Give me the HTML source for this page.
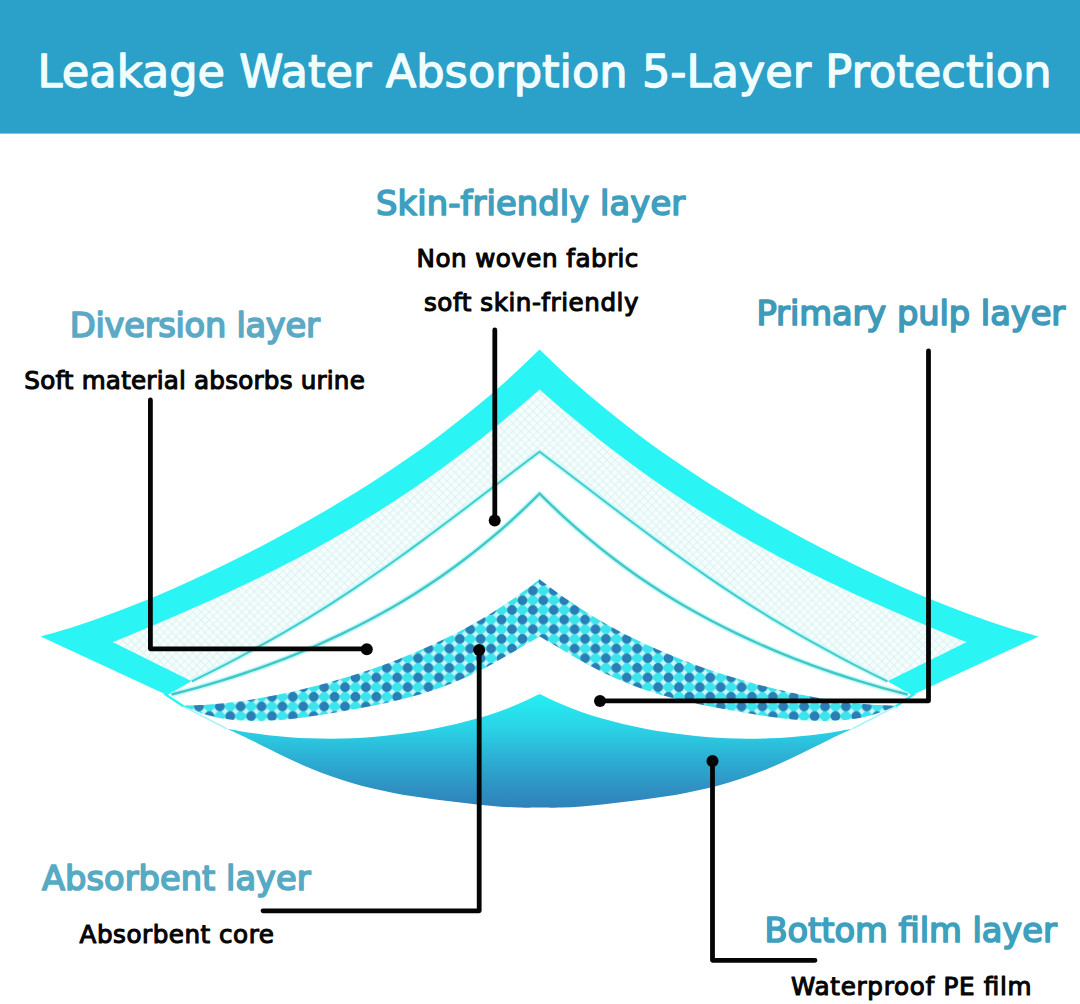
<!DOCTYPE html>
<html lang="en">
<head>
<meta charset="utf-8">
<title>Leakage Water Absorption 5-Layer Protection</title>
<style>
html,body{margin:0;padding:0;background:#fff;}
body{width:1080px;height:1004px;overflow:hidden;font-family:"Liberation Sans",Arial,Helvetica,sans-serif;}
svg{display:block;}
text{font-family:"DejaVu Sans","Liberation Sans",Arial,Helvetica,sans-serif;font-weight:400;stroke-linejoin:round;}
.t{stroke-width:1.3px;}
.h{stroke-width:1.7px;}
.s{stroke-width:1.1px;}
</style>
</head>
<body>
<svg width="1080" height="1004" viewBox="0 0 1080 1004">
<defs>
<pattern id="grid" width="5.8" height="5.8" patternUnits="userSpaceOnUse" patternTransform="rotate(45)">
<rect width="5.8" height="5.8" fill="#f5fefe"/>
<path d="M0 0H5.8M0 0V5.8" stroke="#e0f2f1" stroke-width="2.2" fill="none"/>
</pattern>
<pattern id="dots" x="11.1" y="11.7" width="20.87" height="19.3" patternUnits="userSpaceOnUse">
<rect width="20.87" height="19.3" fill="#3de4ec"/>
<g fill="#c4f7f9">
<rect x="-2.4" y="-2.4" width="4.8" height="4.8" transform="translate(5.22 4.83) rotate(45)"/>
<rect x="-2.4" y="-2.4" width="4.8" height="4.8" transform="translate(15.65 4.83) rotate(45)"/>
<rect x="-2.4" y="-2.4" width="4.8" height="4.8" transform="translate(5.22 14.48) rotate(45)"/>
<rect x="-2.4" y="-2.4" width="4.8" height="4.8" transform="translate(15.65 14.48) rotate(45)"/>
</g>
<g fill="#2b7db6">
<circle cx="0" cy="0" r="4.8"/><circle cx="20.87" cy="0" r="4.8"/>
<circle cx="0" cy="19.3" r="4.8"/><circle cx="20.87" cy="19.3" r="4.8"/>
<circle cx="10.44" cy="9.65" r="4.8"/>
</g>
</pattern>
<linearGradient id="film" x1="0" y1="694" x2="0" y2="808" gradientUnits="userSpaceOnUse">
<stop offset="0" stop-color="#24f0f2"/>
<stop offset="0.3" stop-color="#2ad3e6"/>
<stop offset="0.56" stop-color="#2cb0d4"/>
<stop offset="0.8" stop-color="#2e94c4"/>
<stop offset="1" stop-color="#2f81ba"/>
</linearGradient>
</defs>
<rect width="1080" height="1004" fill="#fff"/>
<rect width="1080" height="133.6" fill="#2ba0c8"/>
<path d="M40.6 636.5C46.1 634.9 62.8 630.3 73.9 626.7C85 623.2 96 619.4 107.1 615.3C118.2 611.3 129.3 606.9 140.4 602.5C151.5 598 162.6 593.3 173.7 588.4C184.8 583.5 195.8 578.4 206.9 573.2C218 568 229.1 562.6 240.2 557C251.3 551.4 262.4 545.7 273.5 539.8C284.6 533.9 295.6 527.8 306.7 521.5C317.8 515.3 328.9 508.8 340 502.1C351.1 495.5 362.2 488.6 373.3 481.5C384.4 474.3 395.4 467 406.5 459.3C417.6 451.6 428.7 443.7 439.8 435.4C450.9 427 462 418.4 473.1 409.3C484.2 400.3 495.2 390.8 506.3 380.9C517.4 370.9 534.1 354.7 539.6 349.5C545.1 354.7 561.8 370.9 572.9 380.9C584 390.8 595 400.3 606.1 409.3C617.2 418.4 628.3 427 639.4 435.4C650.5 443.7 661.6 451.6 672.7 459.3C683.8 467 694.8 474.3 705.9 481.5C717 488.6 728.1 495.5 739.2 502.1C750.3 508.8 761.4 515.3 772.5 521.5C783.6 527.8 794.6 533.9 805.7 539.8C816.8 545.7 827.9 551.4 839 557C850.1 562.6 861.2 568 872.3 573.2C883.4 578.4 894.4 583.5 905.5 588.4C916.6 593.3 927.7 598 938.8 602.5C949.9 606.9 961 611.3 972.1 615.3C983.2 619.4 994.2 623.2 1005.3 626.7C1016.4 630.3 1033.1 634.9 1038.6 636.5L911.7 695.2L887.5 681.3C883.6 679.4 872 673.7 864.3 669.8C856.6 665.9 848.8 661.9 841.1 657.8C833.4 653.7 825.7 649.5 817.9 645.2C810.2 641 802.5 636.6 794.7 632.1C787 627.6 779.3 623 771.5 618.3C763.8 613.5 756.1 608.7 748.3 603.8C740.6 598.8 732.9 593.8 725.1 588.6C717.4 583.5 709.7 578.2 702 572.8C694.2 567.5 686.5 562 678.8 556.5C671 550.9 663.3 545.3 655.6 539.6C647.8 533.9 640.1 528.1 632.4 522.3C624.6 516.5 616.9 510.6 609.2 504.7C601.4 498.8 593.7 492.9 586 487C578.3 481.1 570.5 475.1 562.8 469.3C555.1 463.4 543.5 454.6 539.6 451.7C535.7 454.6 524.1 463.4 516.4 469.3C508.7 475.1 500.9 481.1 493.2 487C485.5 492.9 477.8 498.8 470 504.7C462.3 510.6 454.6 516.5 446.8 522.3C439.1 528.1 431.4 533.9 423.6 539.6C415.9 545.3 408.2 550.9 400.4 556.5C392.7 562 385 567.5 377.2 572.8C369.5 578.2 361.8 583.5 354.1 588.6C346.3 593.8 338.6 598.8 330.9 603.8C323.1 608.7 315.4 613.5 307.7 618.3C299.9 623 292.2 627.6 284.5 632.1C276.7 636.6 269 641 261.3 645.2C253.5 649.5 245.8 653.7 238.1 657.8C230.4 661.9 222.6 665.9 214.9 669.8C207.2 673.7 195.6 679.4 191.7 681.3L167.5 695.2Z" fill="#2bf4f4"/>
<path d="M112.5 642.1C117.2 640.2 131.5 634.4 141 630.4C150.5 626.5 160 622.5 169.4 618.5C178.9 614.4 188.4 610.3 197.9 606.1C207.4 601.9 216.9 597.6 226.4 593.2C235.9 588.8 245.4 584.4 254.9 579.7C264.4 575.1 273.8 570.4 283.3 565.5C292.8 560.6 302.3 555.6 311.8 550.4C321.3 545.2 330.8 539.9 340.3 534.4C349.8 528.9 359.3 523.2 368.8 517.3C378.3 511.5 387.7 505.4 397.2 499.2C406.7 492.9 416.2 486.5 425.7 479.9C435.2 473.2 444.7 466.4 454.2 459.3C463.7 452.2 473.2 444.9 482.7 437.4C492.1 429.9 501.6 422.1 511.1 414.1C520.6 406.2 534.9 393.6 539.6 389.5C544.3 393.6 558.6 406.2 568.1 414.1C577.6 422.1 587.1 429.9 596.5 437.4C606 444.9 615.5 452.2 625 459.3C634.5 466.4 644 473.2 653.5 479.9C663 486.5 672.5 492.9 682 499.2C691.5 505.4 700.9 511.5 710.4 517.3C719.9 523.2 729.4 528.9 738.9 534.4C748.4 539.9 757.9 545.2 767.4 550.4C776.9 555.6 786.4 560.6 795.9 565.5C805.4 570.4 814.8 575.1 824.3 579.7C833.8 584.4 843.3 588.8 852.8 593.2C862.3 597.6 871.8 601.9 881.3 606.1C890.8 610.3 900.3 614.4 909.8 618.5C919.2 622.5 928.7 626.5 938.2 630.4C947.7 634.4 962 640.2 966.7 642.1L887.5 681.3C883.6 679.4 872 673.7 864.3 669.8C856.6 665.9 848.8 661.9 841.1 657.8C833.4 653.7 825.7 649.5 817.9 645.2C810.2 641 802.5 636.6 794.7 632.1C787 627.6 779.3 623 771.5 618.3C763.8 613.5 756.1 608.7 748.3 603.8C740.6 598.8 732.9 593.8 725.1 588.6C717.4 583.5 709.7 578.2 702 572.8C694.2 567.5 686.5 562 678.8 556.5C671 550.9 663.3 545.3 655.6 539.6C647.8 533.9 640.1 528.1 632.4 522.3C624.6 516.5 616.9 510.6 609.2 504.7C601.4 498.8 593.7 492.9 586 487C578.3 481.1 570.5 475.1 562.8 469.3C555.1 463.4 543.5 454.6 539.6 451.7C535.7 454.6 524.1 463.4 516.4 469.3C508.7 475.1 500.9 481.1 493.2 487C485.5 492.9 477.8 498.8 470 504.7C462.3 510.6 454.6 516.5 446.8 522.3C439.1 528.1 431.4 533.9 423.6 539.6C415.9 545.3 408.2 550.9 400.4 556.5C392.7 562 385 567.5 377.2 572.8C369.5 578.2 361.8 583.5 354.1 588.6C346.3 593.8 338.6 598.8 330.9 603.8C323.1 608.7 315.4 613.5 307.7 618.3C299.9 623 292.2 627.6 284.5 632.1C276.7 636.6 269 641 261.3 645.2C253.5 649.5 245.8 653.7 238.1 657.8C230.4 661.9 222.6 665.9 214.9 669.8C207.2 673.7 195.6 679.4 191.7 681.3Z" fill="url(#grid)"/>
<path d="M191.7 681.3C195.6 679.4 207.2 673.7 214.9 669.8C222.6 665.9 230.4 661.9 238.1 657.8C245.8 653.7 253.5 649.5 261.3 645.2C269 641 276.7 636.6 284.5 632.1C292.2 627.6 299.9 623 307.7 618.3C315.4 613.5 323.1 608.7 330.9 603.8C338.6 598.8 346.3 593.8 354.1 588.6C361.8 583.5 369.5 578.2 377.2 572.8C385 567.5 392.7 562 400.4 556.5C408.2 550.9 415.9 545.3 423.6 539.6C431.4 533.9 439.1 528.1 446.8 522.3C454.6 516.5 462.3 510.6 470 504.7C477.8 498.8 485.5 492.9 493.2 487C500.9 481.1 508.7 475.1 516.4 469.3C524.1 463.4 535.7 454.6 539.6 451.7C543.5 454.6 555.1 463.4 562.8 469.3C570.5 475.1 578.3 481.1 586 487C593.7 492.9 601.4 498.8 609.2 504.7C616.9 510.6 624.6 516.5 632.4 522.3C640.1 528.1 647.8 533.9 655.6 539.6C663.3 545.3 671 550.9 678.8 556.5C686.5 562 694.2 567.5 702 572.8C709.7 578.2 717.4 583.5 725.1 588.6C732.9 593.8 740.6 598.8 748.3 603.8C756.1 608.7 763.8 613.5 771.5 618.3C779.3 623 787 627.6 794.7 632.1C802.5 636.6 810.2 641 817.9 645.2C825.7 649.5 833.4 653.7 841.1 657.8C848.8 661.9 856.6 665.9 864.3 669.8C872 673.7 883.6 679.4 887.5 681.3L911.7 695.2L907.7 694.5C903.6 693.4 891.3 690.3 883.2 688.1C875 685.8 866.8 683.4 858.6 680.9C850.4 678.4 842.3 675.8 834.1 673C825.9 670.3 817.7 667.4 809.5 664.4C801.4 661.3 793.2 658.2 785 654.9C776.8 651.6 768.6 648.1 760.5 644.5C752.3 640.9 744.1 637.1 735.9 633.2C727.7 629.2 719.6 625.1 711.4 620.8C703.2 616.5 695 612 686.8 607.3C678.7 602.5 670.5 597.6 662.3 592.4C654.1 587.2 645.9 581.8 637.8 576.2C629.6 570.5 621.4 564.6 613.2 558.3C605 552.1 596.9 545.6 588.7 538.7C580.5 531.9 572.3 524.7 564.1 517.2C556 509.7 543.7 497.5 539.6 493.6C535.5 497.5 523.2 509.7 515.1 517.2C506.9 524.7 498.7 531.9 490.5 538.7C482.3 545.6 474.2 552.1 466 558.3C457.8 564.6 449.6 570.5 441.4 576.2C433.3 581.8 425.1 587.2 416.9 592.4C408.7 597.6 400.5 602.5 392.4 607.3C384.2 612 376 616.5 367.8 620.8C359.6 625.1 351.5 629.2 343.3 633.2C335.1 637.1 326.9 640.9 318.7 644.5C310.6 648.1 302.4 651.6 294.2 654.9C286 658.2 277.8 661.3 269.7 664.4C261.5 667.4 253.3 670.3 245.1 673C236.9 675.8 228.8 678.4 220.6 680.9C212.4 683.4 204.2 685.8 196 688.1C187.9 690.3 175.6 693.4 171.5 694.5L167.5 695.2Z" fill="#fff"/>
<path d="M191.7 681.3C195.6 679.4 207.2 673.7 214.9 669.8C222.6 665.9 230.4 661.9 238.1 657.8C245.8 653.7 253.5 649.5 261.3 645.2C269 641 276.7 636.6 284.5 632.1C292.2 627.6 299.9 623 307.7 618.3C315.4 613.5 323.1 608.7 330.9 603.8C338.6 598.8 346.3 593.8 354.1 588.6C361.8 583.5 369.5 578.2 377.2 572.8C385 567.5 392.7 562 400.4 556.5C408.2 550.9 415.9 545.3 423.6 539.6C431.4 533.9 439.1 528.1 446.8 522.3C454.6 516.5 462.3 510.6 470 504.7C477.8 498.8 485.5 492.9 493.2 487C500.9 481.1 508.7 475.1 516.4 469.3C524.1 463.4 535.7 454.6 539.6 451.7C543.5 454.6 555.1 463.4 562.8 469.3C570.5 475.1 578.3 481.1 586 487C593.7 492.9 601.4 498.8 609.2 504.7C616.9 510.6 624.6 516.5 632.4 522.3C640.1 528.1 647.8 533.9 655.6 539.6C663.3 545.3 671 550.9 678.8 556.5C686.5 562 694.2 567.5 702 572.8C709.7 578.2 717.4 583.5 725.1 588.6C732.9 593.8 740.6 598.8 748.3 603.8C756.1 608.7 763.8 613.5 771.5 618.3C779.3 623 787 627.6 794.7 632.1C802.5 636.6 810.2 641 817.9 645.2C825.7 649.5 833.4 653.7 841.1 657.8C848.8 661.9 856.6 665.9 864.3 669.8C872 673.7 883.6 679.4 887.5 681.3" fill="none" stroke="#c4f9fa" stroke-width="5" stroke-linejoin="round"/>
<path d="M171.5 694.5C175.6 693.4 187.9 690.3 196 688.1C204.2 685.8 212.4 683.4 220.6 680.9C228.8 678.4 236.9 675.8 245.1 673C253.3 670.3 261.5 667.4 269.7 664.4C277.8 661.3 286 658.2 294.2 654.9C302.4 651.6 310.6 648.1 318.7 644.5C326.9 640.9 335.1 637.1 343.3 633.2C351.5 629.2 359.6 625.1 367.8 620.8C376 616.5 384.2 612 392.4 607.3C400.5 602.5 408.7 597.6 416.9 592.4C425.1 587.2 433.3 581.8 441.4 576.2C449.6 570.5 457.8 564.6 466 558.3C474.2 552.1 482.3 545.6 490.5 538.7C498.7 531.9 506.9 524.7 515.1 517.2C523.2 509.7 535.5 497.5 539.6 493.6C543.7 497.5 556 509.7 564.1 517.2C572.3 524.7 580.5 531.9 588.7 538.7C596.9 545.6 605 552.1 613.2 558.3C621.4 564.6 629.6 570.5 637.8 576.2C645.9 581.8 654.1 587.2 662.3 592.4C670.5 597.6 678.7 602.5 686.8 607.3C695 612 703.2 616.5 711.4 620.8C719.6 625.1 727.7 629.2 735.9 633.2C744.1 637.1 752.3 640.9 760.5 644.5C768.6 648.1 776.8 651.6 785 654.9C793.2 658.2 801.4 661.3 809.5 664.4C817.7 667.4 825.9 670.3 834.1 673C842.3 675.8 850.4 678.4 858.6 680.9C866.8 683.4 875 685.8 883.2 688.1C891.3 690.3 903.6 693.4 907.7 694.5" fill="none" stroke="#c4f9fa" stroke-width="5.4" stroke-linejoin="round"/>
<path d="M191.7 681.3C195.6 679.4 207.2 673.7 214.9 669.8C222.6 665.9 230.4 661.9 238.1 657.8C245.8 653.7 253.5 649.5 261.3 645.2C269 641 276.7 636.6 284.5 632.1C292.2 627.6 299.9 623 307.7 618.3C315.4 613.5 323.1 608.7 330.9 603.8C338.6 598.8 346.3 593.8 354.1 588.6C361.8 583.5 369.5 578.2 377.2 572.8C385 567.5 392.7 562 400.4 556.5C408.2 550.9 415.9 545.3 423.6 539.6C431.4 533.9 439.1 528.1 446.8 522.3C454.6 516.5 462.3 510.6 470 504.7C477.8 498.8 485.5 492.9 493.2 487C500.9 481.1 508.7 475.1 516.4 469.3C524.1 463.4 535.7 454.6 539.6 451.7C543.5 454.6 555.1 463.4 562.8 469.3C570.5 475.1 578.3 481.1 586 487C593.7 492.9 601.4 498.8 609.2 504.7C616.9 510.6 624.6 516.5 632.4 522.3C640.1 528.1 647.8 533.9 655.6 539.6C663.3 545.3 671 550.9 678.8 556.5C686.5 562 694.2 567.5 702 572.8C709.7 578.2 717.4 583.5 725.1 588.6C732.9 593.8 740.6 598.8 748.3 603.8C756.1 608.7 763.8 613.5 771.5 618.3C779.3 623 787 627.6 794.7 632.1C802.5 636.6 810.2 641 817.9 645.2C825.7 649.5 833.4 653.7 841.1 657.8C848.8 661.9 856.6 665.9 864.3 669.8C872 673.7 883.6 679.4 887.5 681.3" fill="none" stroke="#44cccb" stroke-width="2" stroke-linejoin="miter"/>
<path d="M171.5 694.5C175.6 693.4 187.9 690.3 196 688.1C204.2 685.8 212.4 683.4 220.6 680.9C228.8 678.4 236.9 675.8 245.1 673C253.3 670.3 261.5 667.4 269.7 664.4C277.8 661.3 286 658.2 294.2 654.9C302.4 651.6 310.6 648.1 318.7 644.5C326.9 640.9 335.1 637.1 343.3 633.2C351.5 629.2 359.6 625.1 367.8 620.8C376 616.5 384.2 612 392.4 607.3C400.5 602.5 408.7 597.6 416.9 592.4C425.1 587.2 433.3 581.8 441.4 576.2C449.6 570.5 457.8 564.6 466 558.3C474.2 552.1 482.3 545.6 490.5 538.7C498.7 531.9 506.9 524.7 515.1 517.2C523.2 509.7 535.5 497.5 539.6 493.6C543.7 497.5 556 509.7 564.1 517.2C572.3 524.7 580.5 531.9 588.7 538.7C596.9 545.6 605 552.1 613.2 558.3C621.4 564.6 629.6 570.5 637.8 576.2C645.9 581.8 654.1 587.2 662.3 592.4C670.5 597.6 678.7 602.5 686.8 607.3C695 612 703.2 616.5 711.4 620.8C719.6 625.1 727.7 629.2 735.9 633.2C744.1 637.1 752.3 640.9 760.5 644.5C768.6 648.1 776.8 651.6 785 654.9C793.2 658.2 801.4 661.3 809.5 664.4C817.7 667.4 825.9 670.3 834.1 673C842.3 675.8 850.4 678.4 858.6 680.9C866.8 683.4 875 685.8 883.2 688.1C891.3 690.3 903.6 693.4 907.7 694.5" fill="none" stroke="#42c6c6" stroke-width="2.4" stroke-linejoin="miter"/>
<path d="M182.3 705.8L226.8 728.8M896.9 705.8L852.4 728.8" stroke="#a8f5f6" stroke-width="1.6" fill="none"/>
<path d="M164.5 693.8L183.3 706.3M914.7 693.8L895.9 706.3" stroke="#2bf4f4" stroke-width="2.4" fill="none"/>
<path d="M182.3 705.8C186.3 705.6 198.2 705.3 206.1 704.8C214.1 704.3 222 703.5 229.9 702.5C237.9 701.6 245.8 700.5 253.8 699.2C261.7 697.9 269.6 696.4 277.6 694.8C285.5 693.2 293.5 691.5 301.4 689.6C309.3 687.7 317.3 685.6 325.2 683.5C333.2 681.3 341.1 679 349 676.5C357 674 364.9 671.4 372.9 668.7C380.8 665.9 388.7 663 396.7 659.9C404.6 656.8 412.6 653.5 420.5 650.1C428.4 646.6 436.4 643 444.3 639.1C452.3 635.2 460.2 631.1 468.1 626.7C476.1 622.3 484 617.7 492 612.8C499.9 607.8 507.8 602.6 515.8 597C523.7 591.4 535.6 582.2 539.6 579.2C543.6 582.2 555.5 591.4 563.4 597C571.4 602.6 579.3 607.8 587.2 612.8C595.2 617.7 603.1 622.3 611.1 626.7C619 631.1 626.9 635.2 634.9 639.1C642.8 643 650.8 646.6 658.7 650.1C666.6 653.5 674.6 656.8 682.5 659.9C690.5 663 698.4 665.9 706.3 668.7C714.3 671.4 722.2 674 730.2 676.5C738.1 679 746 681.3 754 683.5C761.9 685.6 769.9 687.7 777.8 689.6C785.7 691.5 793.7 693.2 801.6 694.8C809.6 696.4 817.5 697.9 825.4 699.2C833.4 700.5 841.3 701.6 849.3 702.5C857.2 703.5 865.1 704.3 873.1 704.8C881 705.3 892.9 705.6 896.9 705.8C892.9 707.3 881 712.4 873.1 714.7C865.1 717 857.2 718.5 849.3 719.6C841.3 720.6 833.4 721 825.4 721.1C817.5 721.2 809.6 720.8 801.6 720.3C793.7 719.7 785.7 718.8 777.8 717.8C769.9 716.8 761.9 715.6 754 714.3C746 713.1 738.1 711.7 730.2 710.3C722.2 708.8 714.3 707.4 706.3 705.7C698.4 704.1 690.5 702.4 682.5 700.5C674.6 698.6 666.6 696.6 658.7 694.2C650.8 691.8 642.8 689.2 634.9 686.2C626.9 683.3 619 679.9 611.1 676.3C603.1 672.6 595.2 668.5 587.2 664.2C579.3 659.8 571.4 655 563.4 650.4C555.5 645.8 543.6 638.8 539.6 636.5C535.6 638.8 523.7 645.8 515.8 650.4C507.8 655 499.9 659.8 492 664.2C484 668.5 476.1 672.6 468.1 676.3C460.2 679.9 452.3 683.3 444.3 686.2C436.4 689.2 428.4 691.8 420.5 694.2C412.6 696.6 404.6 698.6 396.7 700.5C388.7 702.4 380.8 704.1 372.9 705.7C364.9 707.4 357 708.8 349 710.3C341.1 711.7 333.2 713.1 325.2 714.3C317.3 715.6 309.3 716.8 301.4 717.8C293.5 718.8 285.5 719.7 277.6 720.3C269.6 720.8 261.7 721.2 253.8 721.1C245.8 721 237.9 720.6 229.9 719.6C222 718.5 214.1 717 206.1 714.7C198.2 712.4 186.3 707.3 182.3 705.8Z" fill="url(#dots)"/>
<path d="M226.8 728.8C230.3 729.4 240.7 731.3 247.7 732.4C254.6 733.4 261.6 734.4 268.5 735.2C275.5 736 282.4 736.7 289.4 737.2C296.3 737.7 303.3 738.1 310.2 738.3C317.2 738.6 324.1 738.7 331.1 738.7C338 738.6 345 738.5 351.9 738.2C358.9 737.9 365.8 737.4 372.8 736.9C379.7 736.3 386.7 735.7 393.6 734.8C400.6 734 407.5 733.1 414.5 732C421.4 731 428.4 729.8 435.3 728.4C442.3 727.1 449.2 725.6 456.2 724C463.1 722.3 470.1 720.5 477 718.5C484 716.5 490.9 714.3 497.9 711.9C504.8 709.4 511.8 706.8 518.7 703.8C525.7 700.9 536.1 695.6 539.6 694C543.1 695.6 553.5 700.9 560.5 703.8C567.4 706.8 574.4 709.4 581.3 711.9C588.3 714.3 595.2 716.5 602.2 718.5C609.1 720.5 616.1 722.3 623 724C630 725.6 636.9 727.1 643.9 728.4C650.8 729.8 657.8 731 664.7 732C671.7 733.1 678.6 734 685.6 734.8C692.5 735.7 699.5 736.3 706.4 736.9C713.4 737.4 720.3 737.9 727.3 738.2C734.2 738.5 741.2 738.6 748.1 738.7C755.1 738.7 762 738.6 769 738.3C775.9 738.1 782.9 737.7 789.8 737.2C796.8 736.7 803.7 736 810.7 735.2C817.6 734.4 824.6 733.4 831.5 732.4C838.5 731.3 848.9 729.4 852.4 728.8C848.9 730.4 838.5 735.1 831.5 738.4C824.6 741.8 817.6 745.4 810.7 748.8C803.7 752.2 796.8 755.7 789.8 759C782.9 762.2 775.9 765.4 769 768.3C762 771.1 755.1 773.9 748.1 776.3C741.2 778.8 734.2 781 727.3 783C720.3 785.1 713.4 786.9 706.4 788.5C699.5 790.1 692.5 791.6 685.6 792.9C678.6 794.2 671.7 795.4 664.7 796.5C657.8 797.6 650.8 798.5 643.9 799.5C636.9 800.4 630 801.3 623 802.1C616.1 802.9 609.1 803.7 602.2 804.4C595.2 805.1 588.3 805.8 581.3 806.4C574.4 806.9 567.4 807.4 560.5 807.6C553.5 807.8 543.1 807.5 539.6 807.5C536.1 807.5 525.7 807.8 518.7 807.6C511.8 807.4 504.8 806.9 497.9 806.4C490.9 805.8 484 805.1 477 804.4C470.1 803.7 463.1 802.9 456.2 802.1C449.2 801.3 442.3 800.4 435.3 799.5C428.4 798.5 421.4 797.6 414.5 796.5C407.5 795.4 400.6 794.2 393.6 792.9C386.7 791.6 379.7 790.1 372.8 788.5C365.8 786.9 358.9 785.1 351.9 783C345 781 338 778.8 331.1 776.3C324.1 773.9 317.2 771.1 310.2 768.3C303.3 765.4 296.3 762.2 289.4 759C282.4 755.7 275.5 752.2 268.5 748.8C261.6 745.4 254.6 741.8 247.7 738.4C240.7 735.1 230.3 730.4 226.8 728.8Z" fill="url(#film)"/>
<g fill="none" stroke="#050505" stroke-width="4.8" stroke-linecap="round" stroke-linejoin="round">
<path d="M494.8 330V520"/>
<path d="M150.4 400V648.8H366"/>
<path d="M928.5 351V700.8H600"/>
<path d="M479.2 650V910.8H263"/>
<path d="M712.5 761V960.3H815"/>
</g>
<g fill="#050505">
<circle cx="494.7" cy="520.4" r="6"/>
<circle cx="366.8" cy="649.2" r="6"/>
<circle cx="600" cy="701" r="6"/>
<circle cx="479.2" cy="650" r="6"/>
<circle cx="712.5" cy="761" r="6"/>
</g>
<g>
<text class="t" x="37.6" y="87.3" font-size="44.8" fill="#f0feff" stroke="#f0feff" textLength="1014" lengthAdjust="spacingAndGlyphs">Leakage Water Absorption 5-Layer Protection</text>
<text class="h" x="376.1" y="215.4" font-size="33.7" fill="#3f9fbe" stroke="#3f9fbe" textLength="309" lengthAdjust="spacing">Skin-friendly layer</text>
<text class="s" x="416.6" y="267.1" font-size="24.6" fill="#050505" stroke="#050505" textLength="221.8" lengthAdjust="spacing">Non woven fabric</text>
<text class="s" x="424" y="310.6" font-size="24.6" fill="#050505" stroke="#050505" textLength="214.5" lengthAdjust="spacing">soft skin-friendly</text>
<text class="h" x="69.8" y="337.1" font-size="33.7" fill="#5ba9c4" stroke="#5ba9c4" textLength="250" lengthAdjust="spacing">Diversion layer</text>
<text class="s" x="24.3" y="389.3" font-size="24.6" fill="#050505" stroke="#050505" textLength="340.5" lengthAdjust="spacing">Soft material absorbs urine</text>
<text class="h" x="756.4" y="325.4" font-size="33.7" fill="#3f9aba" stroke="#3f9aba" textLength="308.8" lengthAdjust="spacing">Primary pulp layer</text>
<text class="h" x="42" y="890.1" font-size="33.7" fill="#57aac4" stroke="#57aac4" textLength="268.6" lengthAdjust="spacing">Absorbent layer</text>
<text class="s" x="79.6" y="942.6" font-size="24.6" fill="#050505" stroke="#050505" textLength="194.3" lengthAdjust="spacing">Absorbent core</text>
<text class="h" x="764.4" y="942.4" font-size="33.7" fill="#3f9fbe" stroke="#3f9fbe" textLength="292.4" lengthAdjust="spacing">Bottom film layer</text>
<text class="s" x="791" y="994.5" font-size="24.6" fill="#050505" stroke="#050505" textLength="240.5" lengthAdjust="spacing">Waterproof PE film</text>
</g>
</svg>
</body>
</html>
